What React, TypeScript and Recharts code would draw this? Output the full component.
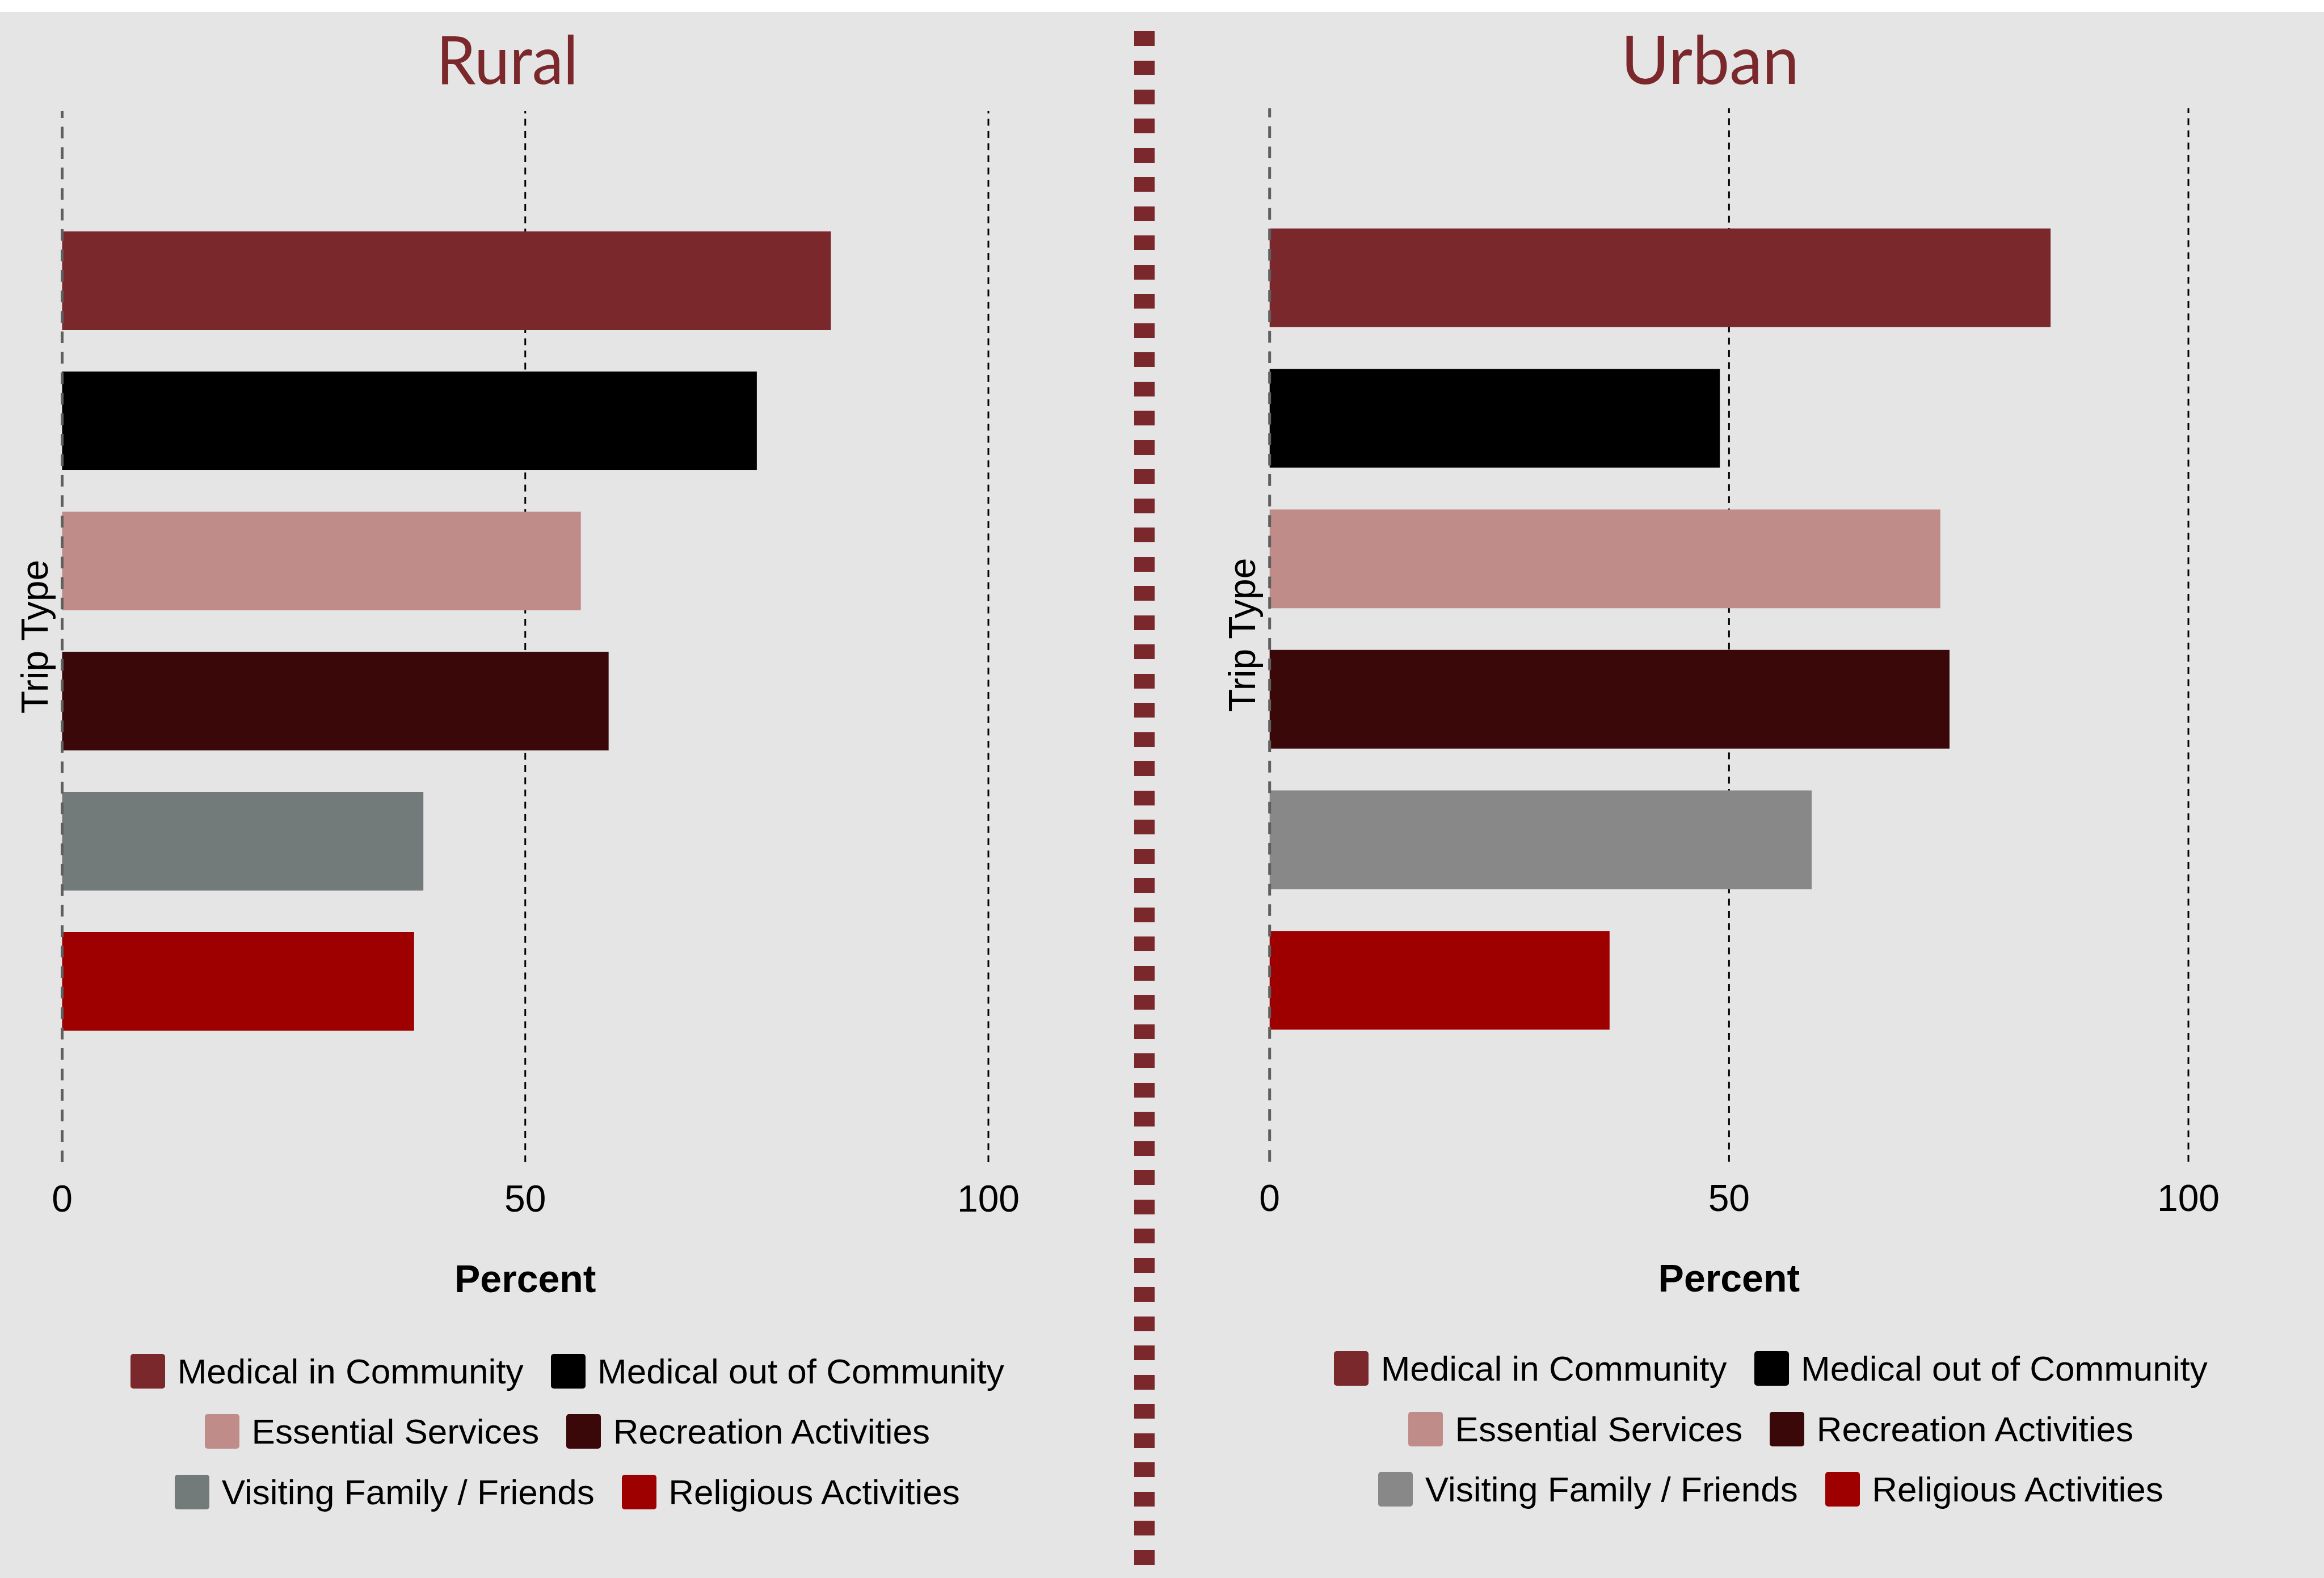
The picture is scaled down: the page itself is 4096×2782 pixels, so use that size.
import React from "react";
import {
  BarChart,
  Bar,
  Cell,
  XAxis,
  YAxis,
  ReferenceLine,
  Legend,
} from "recharts";

// trip types, top to bottom
const categories = [
  "Medical in Community",
  "Medical out of Community",
  "Essential Services",
  "Recreation Activities",
  "Visiting Family / Friends",
  "Religious Activities",
];

// percent of respondents
const ruralValues = [83, 75, 56, 59, 39, 38];
const urbanValues = [85, 49, 73, 74, 59, 37];

const ruralColors = ["#7b282c", "#000000", "#c08c8a", "#3a0808", "#727a7a", "#9e0000"];
const urbanColors = ["#7b282c", "#000000", "#c08c8a", "#3a0808", "#888888", "#9e0000"];

const xTicks = [0, 50, 100];
const gridValues = [50, 100];

const FONT = "'Liberation Sans', Arial, Helvetica, sans-serif";
const TITLE_FONT = "Lato, 'Open Sans', sans-serif";
const MAROON = "#7b282c";

interface PanelProps {
  values: number[];
  colors: string[];
  left: number;
  margin: { top: number; right: number; bottom: number; left: number };
  legendTop: number;
  legendLeft: number;
}

const Panel: React.FC<PanelProps> = ({ values, colors, left, margin, legendTop, legendLeft }) => {
  const data = categories.map((name, i) => ({ name, value: values[i] }));

  const renderTick = (p: any) => (
    <text
      x={p.x}
      y={p.y + 87}
      textAnchor="middle"
      fontFamily={FONT}
      fontSize={66}
      fill="#000"
    >
      {p.payload.value}
    </text>
  );

  const percentLabel = (p: any) => {
    const vb = p.viewBox || {};
    return (
      <text
        x={vb.x + vb.width / 2}
        y={vb.y + 229}
        textAnchor="middle"
        fontFamily={FONT}
        fontWeight="bold"
        fontSize={68}
        fill="#000"
      >
        Percent
      </text>
    );
  };

  const tripLabel = (p: any) => {
    const vb = p.viewBox || {};
    const x = vb.x + (vb.width || 0) - 25.5;
    const y = vb.y + vb.height / 2;
    return (
      <text
        x={x}
        y={y}
        transform={`rotate(-90, ${x}, ${y})`}
        textAnchor="middle"
        fontFamily={FONT}
        fontSize={66}
        fill="#000"
      >
        Trip Type
      </text>
    );
  };

  const legendRows = [0, 2, 4].map((s) => [s, s + 1]);
  const renderLegend = () => (
    <div style={{ fontFamily: FONT, width: 1800 }}>
      {legendRows.map((row, r) => (
        <div
          key={r}
          style={{
            display: "flex",
            justifyContent: "center",
            alignItems: "center",
            height: 106.5,
          }}
        >
          {row.map((i, k) => (
            <div
              key={i}
              style={{ display: "flex", alignItems: "center", marginLeft: k ? 48 : 0 }}
            >
              <div
                style={{
                  width: 61,
                  height: 61,
                  borderRadius: 5,
                  background: colors[i],
                  marginRight: 21.5,
                }}
              />
              <span style={{ fontSize: 62, color: "#000", whiteSpace: "nowrap" }}>
                {categories[i]}
              </span>
            </div>
          ))}
        </div>
      ))}
    </div>
  );

  return (
    <div style={{ position: "absolute", left, top: 0 }}>
      <BarChart
        width={2048}
        height={2782}
        data={data}
        layout="vertical"
        margin={margin}
      >
        <XAxis
          type="number"
          domain={[0, 100]}
          ticks={xTicks}
          axisLine={false}
          tickLine={false}
          tickSize={0}
          tickMargin={0}
          height={300}
          tick={renderTick}
          label={{ content: percentLabel }}
        />
        <YAxis
          type="category"
          dataKey="name"
          width={1}
          tick={false}
          axisLine={false}
          tickLine={false}
          padding={{ top: 175, bottom: 196 }}
          label={{ content: tripLabel }}
        />
        {gridValues.map((v) => (
          <ReferenceLine
            key={v}
            x={v}
            stroke="#000"
            strokeWidth={3}
            strokeDasharray="12 9.5"
            zIndex={-50}
          />
        ))}
        <Bar dataKey="value" barSize={174} isAnimationActive={false}>
          {data.map((d, i) => (
            <Cell key={d.name} fill={colors[i]} />
          ))}
        </Bar>
        <ReferenceLine
          x={0}
          stroke="#5f5f5f"
          strokeWidth={5}
          strokeDasharray="20.6 15.5"
          zIndex={700}
        />
        <Legend
          layout="horizontal"
          verticalAlign="middle"
          align="center"
          content={renderLegend}
          wrapperStyle={{ top: legendTop, left: legendLeft, width: 1800, height: 320 }}
        />
      </BarChart>
    </div>
  );
};

const App: React.FC = () => {
  return (
    <div
      style={{
        position: "absolute",
        left: 0,
        top: 0,
        width: 4096,
        height: 2782,
        background: "#fff",
        overflow: "hidden",
      }}
    >
      <div
        style={{
          position: "absolute",
          left: 0,
          top: 20.6,
          width: 4096,
          height: 2762,
          background: "#e5e5e5",
        }}
      />
      <div
        style={{
          position: "absolute",
          left: 1999,
          top: 55,
          width: 36,
          height: 2727,
          background: `repeating-linear-gradient(to bottom, ${MAROON} 0px, ${MAROON} 25.8px, transparent 25.8px, transparent 51.5px)`,
        }}
      />
      <svg
        width={4096}
        height={200}
        style={{ position: "absolute", left: 0, top: 0 }}
      >
        <text
          x={894}
          y={147.7}
          textAnchor="middle"
          fontFamily={TITLE_FONT}
          fontWeight={400}
          fontSize={118}
          textLength={250}
          lengthAdjust="spacingAndGlyphs"
          fill={MAROON}
        >
          Rural
        </text>
        <text
          x={3014}
          y={147.7}
          textAnchor="middle"
          fontFamily={TITLE_FONT}
          fontWeight={400}
          fontSize={118}
          textLength={314}
          lengthAdjust="spacingAndGlyphs"
          fill={MAROON}
        >
          Urban
        </text>
      </svg>
      <Panel
        values={ruralValues}
        colors={ruralColors}
        left={0}
        margin={{ top: 196, right: 306, bottom: 433, left: 108.5 }}
        legendTop={2363.75}
        legendLeft={100}
      />
      <Panel
        values={urbanValues}
        colors={urbanColors}
        left={2048}
        margin={{ top: 190.7, right: 239, bottom: 434, left: 188.7 }}
        legendTop={2359.25}
        legendLeft={173}
      />
    </div>
  );
};

export default App;
